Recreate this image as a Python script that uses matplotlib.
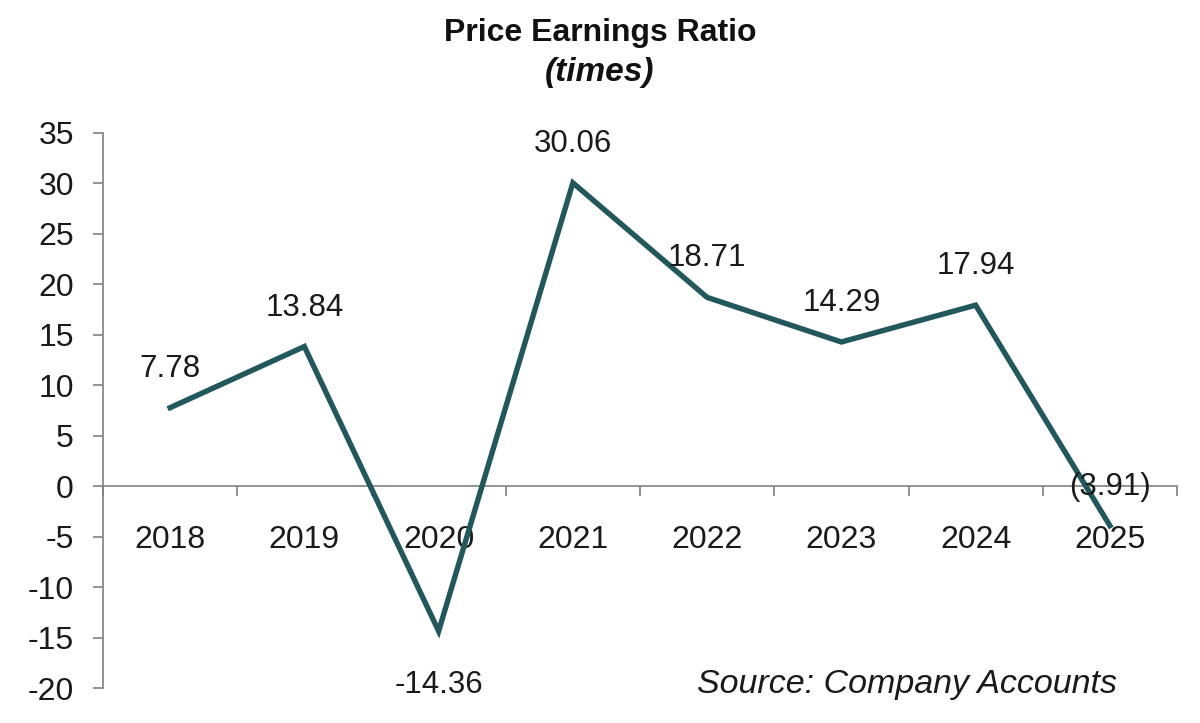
import matplotlib
matplotlib.use("Agg")
import matplotlib.pyplot as plt
import numpy as np

years = ["2018", "2019", "2020", "2021", "2022", "2023", "2024", "2025"]
pe_ratio = [7.78, 13.84, -14.36, 30.06, 18.71, 14.29, 17.94, -3.91]
value_labels = ["7.78", "13.84", "-14.36", "30.06", "18.71", "14.29", "17.94", "(3.91)"]
y_ticks = [-20, -15, -10, -5, 0, 5, 10, 15, 20, 25, 30, 35]

plt.rcParams['font.family'] = ['Liberation Sans', 'DejaVu Sans']

fig = plt.figure(figsize=(12, 7.23), dpi=100)
ax = fig.add_axes([103/1200, 1 - 688/723, (1177-103)/1200, (688-133)/723])

x = np.arange(len(years))
line_color = "#22585C"
ax.plot(x, pe_ratio, color=line_color, linewidth=3.9, solid_joinstyle='miter', zorder=3)

ax.set_xlim(-0.5, len(years) - 0.5)
ax.set_ylim(-20, 35)
ax.set_yticks(y_ticks)
ax.set_yticklabels([str(t) for t in y_ticks])

for s in ["top", "right"]:
    ax.spines[s].set_visible(False)
ax.spines["left"].set_color("#808080")
ax.spines["left"].set_linewidth(1.2)
ax.spines["bottom"].set_position(("data", 0))
ax.spines["bottom"].set_color("#808080")
ax.spines["bottom"].set_linewidth(1.2)

txt = "#1a1a1a"
ax.set_xticks(x)
ax.set_xticklabels(years)
ax.set_xticks(np.arange(-0.5, len(years)), minor=True)
ax.tick_params(axis="x", which="major", length=0, pad=28, labelsize=23, labelcolor=txt)
ax.tick_params(axis="x", which="minor", length=7, width=1.2, color="#808080", direction="out")
ax.tick_params(axis="y", length=7, width=1.2, color="#808080", direction="out", labelsize=23,
               labelcolor=txt, pad=14)

for xi, yi, lab in zip(x, pe_ratio, value_labels):
    dy = -54 if lab.startswith("-") else 39
    ax.annotate(lab, (xi, yi), xytext=(0, dy), textcoords="offset pixels",
                ha="center", va="center", fontsize=22.5, color=txt)

fig.text(0.5, 1 - 33/723, "Price Earnings Ratio", ha="center", va="center",
         fontsize=23, fontweight="bold", color="#111111")
fig.text(0.5, 1 - 72/723, "(times)", ha="center", va="center",
         fontsize=24, fontweight="bold", fontstyle="italic", color="#111111")
fig.text(1117/1200, 1 - 685/723, "Source: Company Accounts", ha="right", va="center",
         fontsize=24.5, fontstyle="italic", color=txt)

fig.savefig("out.png", dpi=100, facecolor="white")
